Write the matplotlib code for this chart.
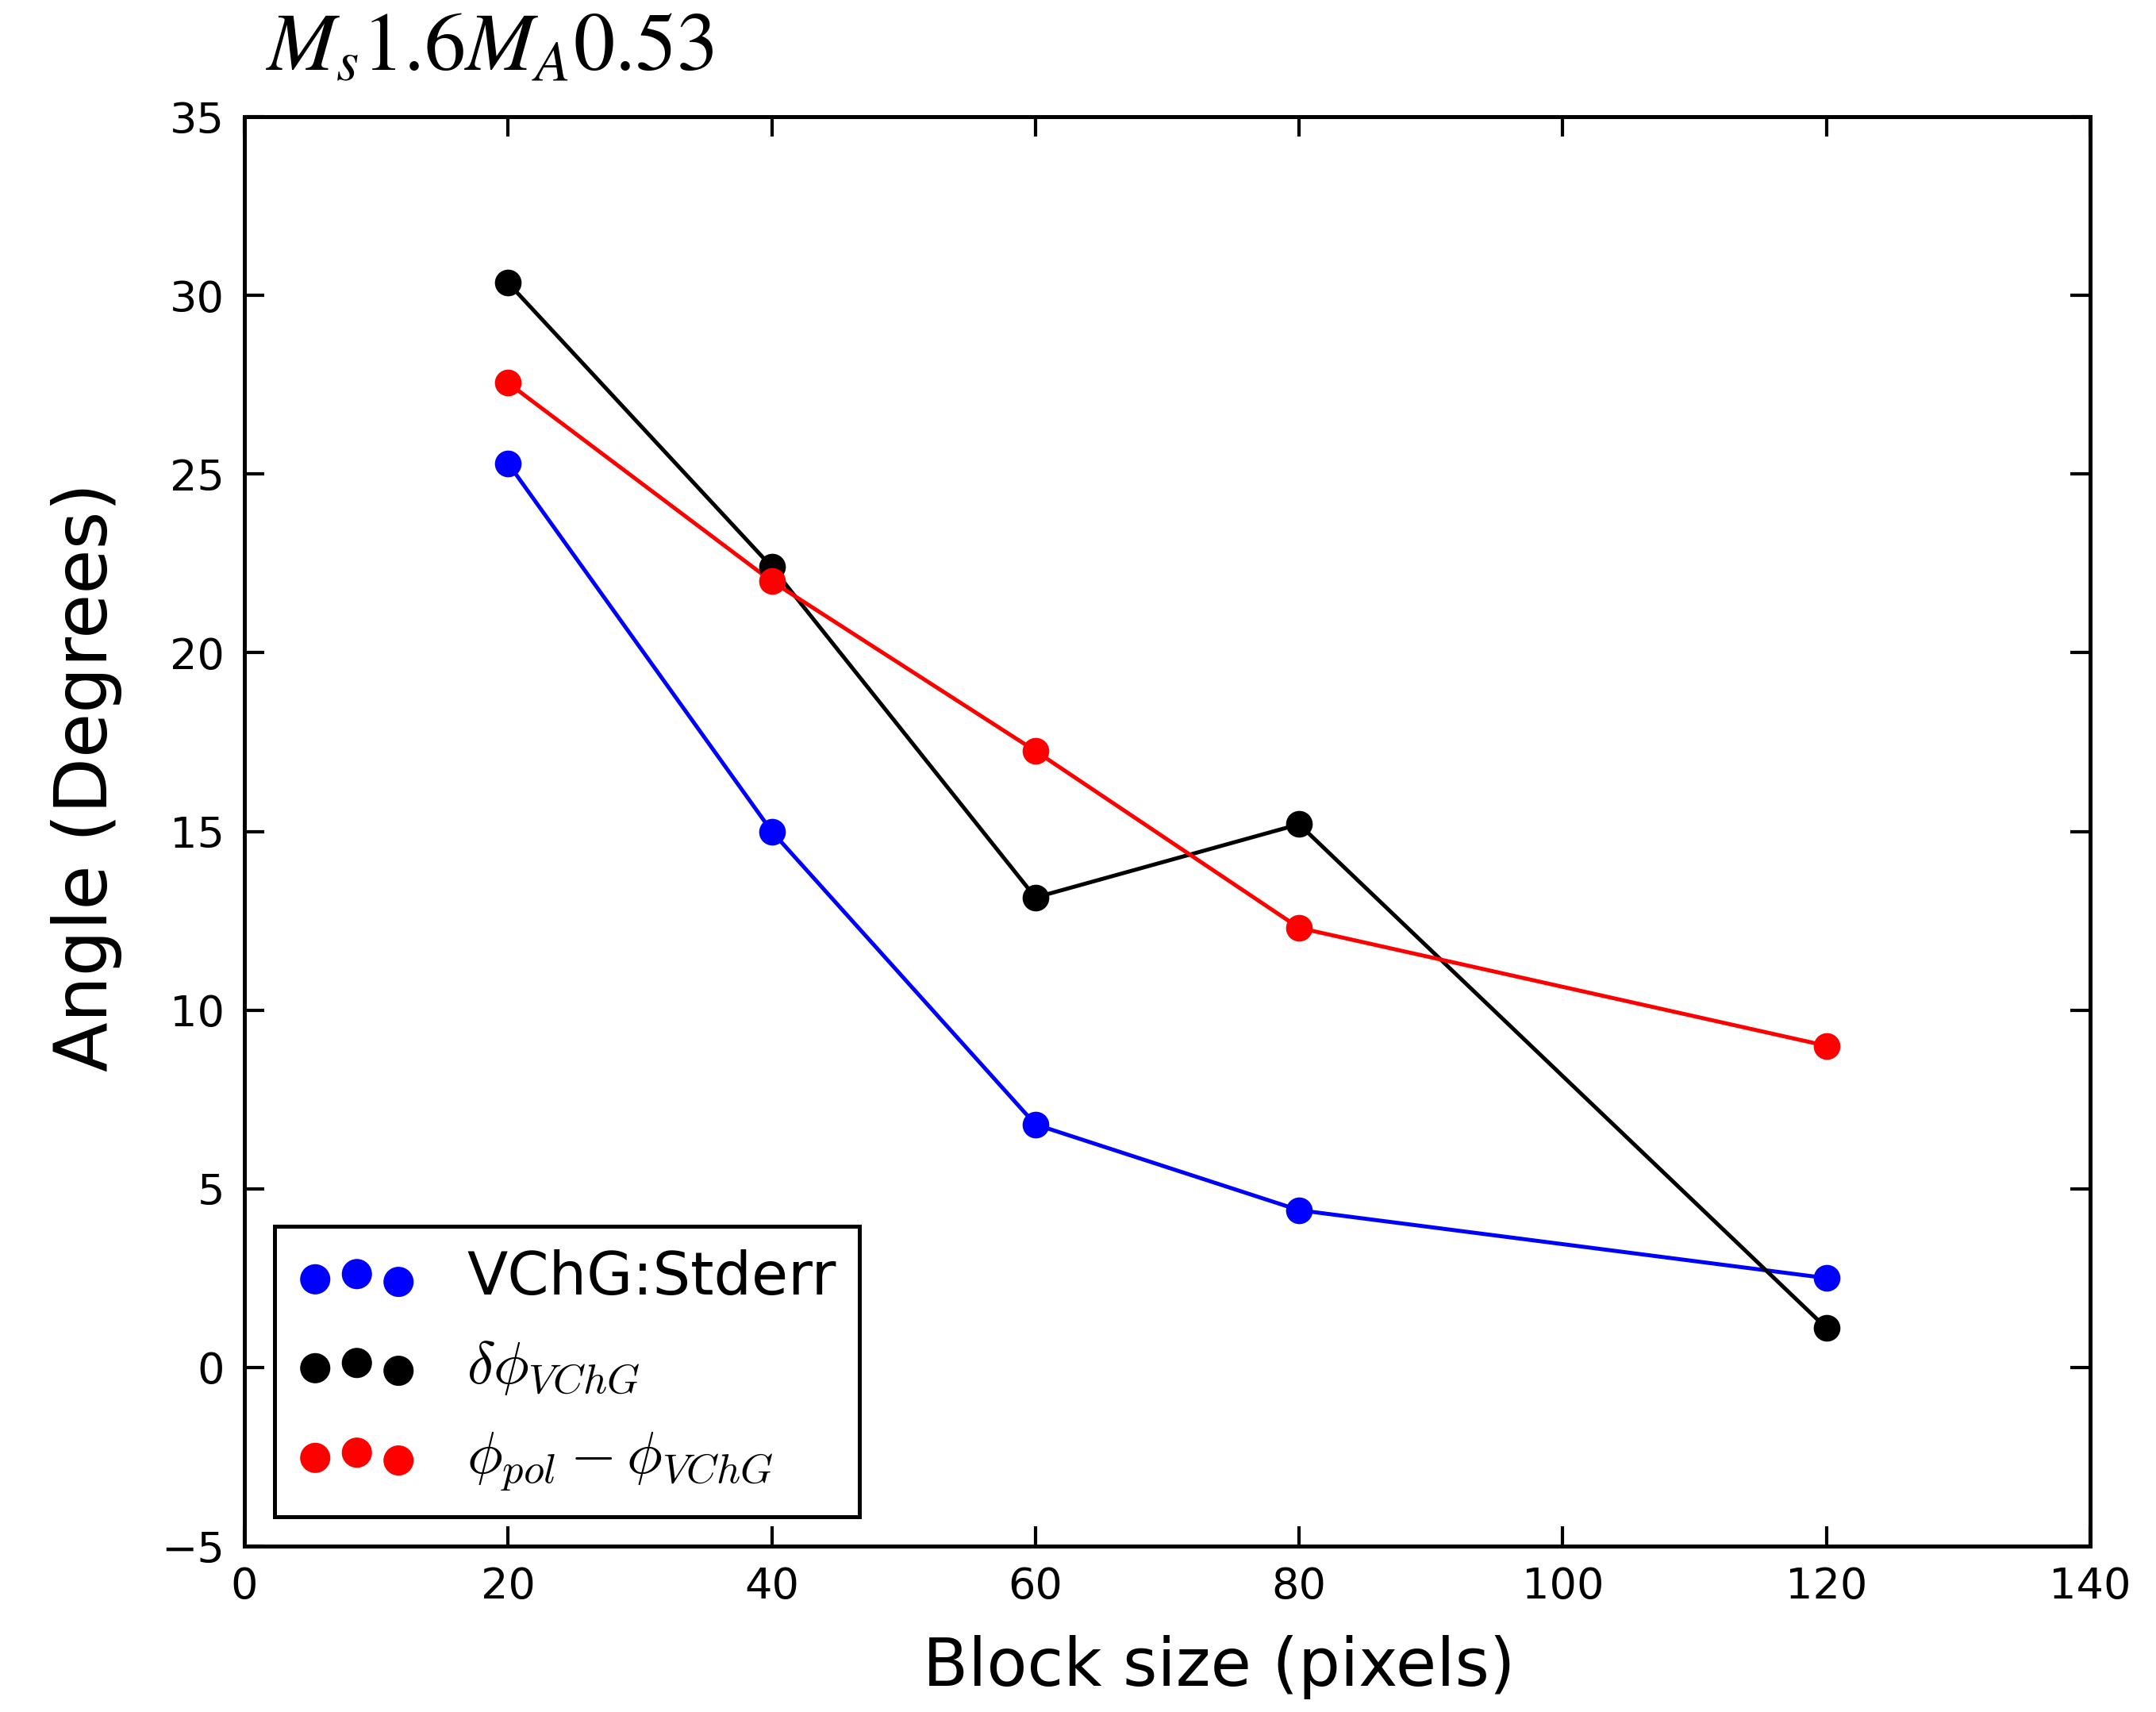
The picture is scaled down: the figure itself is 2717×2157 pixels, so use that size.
import numpy as np
import matplotlib
matplotlib.use("Agg")
import matplotlib.pyplot as plt

block = [20, 40, 60, 80, 120]
stderr = [25.3, 15.0, 6.8, 4.4, 2.5]
dphi = [30.35, 22.4, 13.15, 15.2, 1.1]
phidiff = [27.55, 22.0, 17.25, 12.3, 9.0]

labels = ["VChG:Stderr", r"$\delta\phi_{VChG}$", r"$\phi_{pol} - \phi_{VChG}$"]
colors = ["blue", "black", "red"]

plt.rcParams['mathtext.fontset'] = 'cm'
plt.rcParams['font.family'] = 'DejaVu Sans'

fig = plt.figure(figsize=(2717 / 300, 2157 / 300), dpi=300)
ax = fig.add_axes([308 / 2717, 1 - 1948 / 2157, (2634 - 308) / 2717, (1948 - 147) / 2157])

for y, c, lab in zip([stderr, dphi, phidiff], colors, labels):
    ax.plot(block, y, '-', color=c, lw=1.2)
    ax.scatter(block, y, s=50, color=c, edgecolors=c, zorder=3, label=lab)

ax.set_xlim(0, 140)
ax.set_ylim(-5, 35)
ax.set_xticks(np.arange(0, 141, 20))
ax.set_yticks(np.arange(-5, 36, 5))
ax.tick_params(direction='in', top=True, right=True, labelsize=13, length=6, width=1, pad=6)
for s in ax.spines.values():
    s.set_linewidth(1.2)
ax.set_xlabel("Block size (pixels)", fontsize=20)
ax.set_ylabel("Angle (Degrees)", fontsize=22)
ax.xaxis.set_label_coords(0.528, -0.062)
ax.yaxis.set_label_coords(-0.066, 0.538)

leg = ax.legend(loc='lower left', scatterpoints=3, fontsize=18, fancybox=False,
                framealpha=1, edgecolor='black', borderpad=0.39, labelspacing=0.52,
                handlelength=2.0, handletextpad=0.85, markerscale=1.15,
                borderaxespad=0.5)
leg.get_frame().set_linewidth(1.2)

fig.text(335 / 2717, 1 - 88 / 2157, r"$M_s1.6M_A0.53$", fontsize=25,
         math_fontfamily='stix', va='baseline')

fig.savefig("out.png", dpi=300, facecolor='white')
